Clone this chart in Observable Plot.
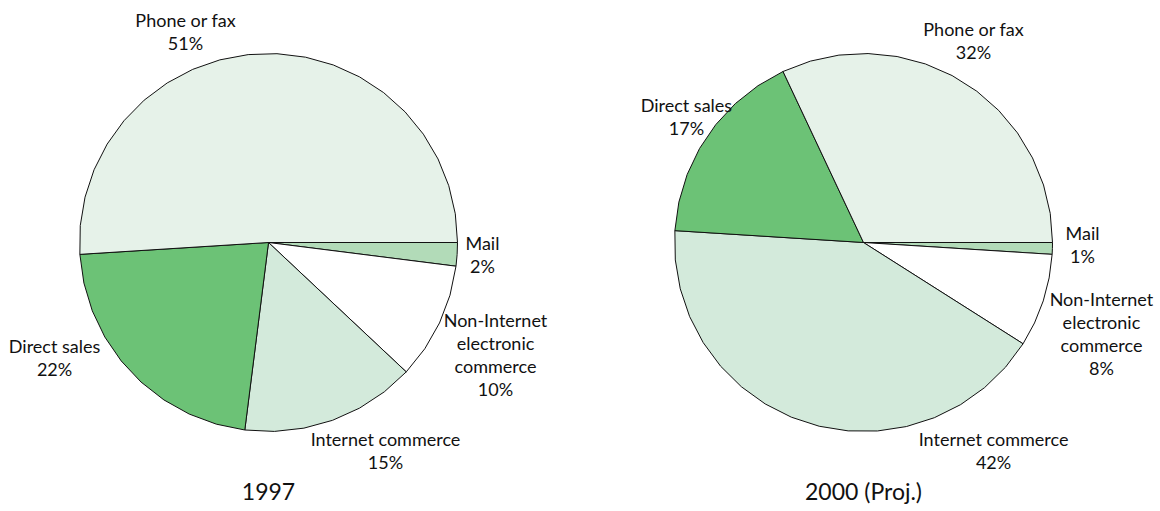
<!DOCTYPE html>
<html><head><meta charset="utf-8">
<script src="https://cdn.jsdelivr.net/npm/d3@7"></script>
<script src="https://cdn.jsdelivr.net/npm/@observablehq/plot@0.6"></script>
<style>html,body{margin:0;padding:0;background:#fff}#chart svg{display:block}</style>
</head><body><div id="chart"></div>
<script>
// ---- data ----
const categories = ["Mail", "Non-Internet electronic commerce", "Internet commerce", "Direct sales", "Phone or fax"];
const labelLines = ["Mail", "Non-Internet\nelectronic\ncommerce", "Internet commerce", "Direct sales", "Phone or fax"];
const years = ["1997", "2000 (Proj.)"];
const share1997 = [2, 10, 15, 22, 51];
const share2000 = [1, 8, 42, 17, 32];

// ---- styles ----
const sliceColors = ["#b2dbb8", "#ffffff", "#d3eadb", "#6cc276", "#e6f2e9"];

// ---- layout (pixels) ----
const W = 1160, H = 511, R = 189, CY = 242, CX = [268, 863], YEAR_Y = 492;
// label anchors in radius units relative to pie centre (dx right, dy down)
const labelOffsets = [
  [[1.132, 0.063], [1.201, 0.593], [0.619, 1.10], [-1.132, 0.608], [-0.439, -1.116]],
  [[1.159, 0.011], [1.259, 0.481], [0.688, 1.10], [-0.937, -0.667], [0.582, -1.069]]
];

const shares = [share1997, share2000];
const cx = CX.map(c => (c - CX[0]) / R);
const slices = [], labels = [];
shares.forEach((vals, p) => {
  const total = d3.sum(vals);
  let a0 = 0;
  vals.forEach((v, i) => {
    const a1 = a0 + v / total * 2 * Math.PI;
    const key = years[p] + "|" + categories[i];
    slices.push({key, cat: categories[i], x: cx[p], y: 0});
    const n = Math.max(2, Math.ceil((a1 - a0) / (Math.PI / 20)));
    for (let k = 0; k <= n; k++) {
      const a = a0 + (a1 - a0) * k / n;
      slices.push({key, cat: categories[i], x: cx[p] + Math.cos(a), y: -Math.sin(a)});
    }
    slices.push({key, cat: categories[i], x: cx[p], y: 0});
    const [dx, dy] = labelOffsets[p][i];
    labels.push({x: cx[p] + dx, y: -dy, text: labelLines[i] + "\n" + v + "%"});
    a0 = a1;
  });
});

const chart = Plot.plot({
  width: W, height: H,
  marginTop: 0, marginBottom: 0, marginLeft: 0, marginRight: 0,
  x: {domain: [(0 - CX[0]) / R, (W - CX[0]) / R], axis: null},
  y: {domain: [(CY - H) / R, CY / R], axis: null},
  color: {domain: categories, range: sliceColors},
  style: {fontFamily: "Lato, sans-serif", background: "#fff"},
  marks: [
    Plot.line(slices, {x: "x", y: "y", z: "key", fill: "cat", stroke: "#111", strokeWidth: 1, curve: "linear", strokeLinejoin: "round"}),
    Plot.text(labels, {x: "x", y: "y", text: "text", fontSize: 18, lineHeight: 1.28, fill: "#111", textAnchor: "middle"}),
    Plot.text(years, {x: (d, i) => cx[i], y: () => -(YEAR_Y - CY) / R, text: d => d, fontSize: 23, fill: "#111", textAnchor: "middle"})
  ]
});
document.getElementById("chart").appendChild(chart);
</script>
</body></html>
